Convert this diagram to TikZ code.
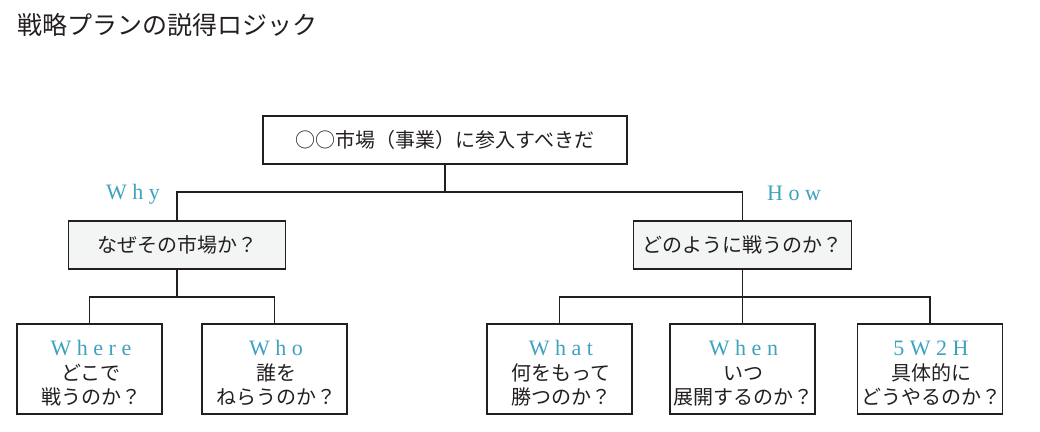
\documentclass[tikz,border=0pt]{standalone}
\usepackage{fontspec}
\setmainfont{Noto Sans CJK JP}
\newfontfamily\lblfont[LetterSpace=25]{Liberation Serif}
\definecolor{teal}{RGB}{62,162,190}
\definecolor{ink}{RGB}{35,31,32}
\definecolor{boxfill}{RGB}{243,245,245}
\begin{document}
\begin{tikzpicture}[x=1pt,y=-1pt,
  box/.style={draw=ink,line width=1.2pt,rectangle,inner sep=0pt,outer sep=0pt,text=ink},
  topbox/.style={box,minimum width=364pt,minimum height=48pt,font=\fontsize{20}{24}\selectfont},
  midbox/.style={box,fill=boxfill,minimum width=217pt,minimum height=48pt,font=\fontsize{20}{24}\selectfont},
  leafbox/.style={box,minimum width=145pt,minimum height=90pt},
  leaftext/.style={inner sep=0pt,align=center,text=ink,font=\fontsize{20}{24.5}\selectfont},
  tag/.style={text=teal,font=\lblfont\fontsize{22}{24}\selectfont,inner sep=0pt},
  link/.style={draw=ink,line width=1.2pt}
]
\useasboundingbox (0,0) rectangle (1040,431);
\node[anchor=west,inner sep=0pt,text=ink,font=\fontsize{25}{30}\selectfont] (title) at (17,25) {戦略プランの説得ロジック};

\node[topbox] (top) at (445,140) {○○市場（事業）に参入すべきだ};
\node[midbox] (why) at (177,245) {なぜその市場か？};
\node[midbox,minimum width=218pt] (how) at (742.5,245) {どのように戦うのか？};

\node[tag] (whyl) at (133,194) {Why};
\node[tag] (howl) at (794,193) {How};

\coordinate (j1) at (445,192);
\coordinate (j2) at (177,297);
\coordinate (j3) at (742.5,297);

\node[leafbox] (where) at (89.5,369) {};
\node[leafbox] (who) at (274.5,369) {};
\node[leafbox] (what) at (559.5,369) {};
\node[leafbox] (when) at (742.5,369) {};
\node[leafbox] (h52) at (930,369) {};

\node[leaftext] (whereT) at (91,373.5) {{\color{teal}\lblfont\fontsize{22}{24.5}\selectfont Where}\\どこで\\戦うのか？};
\node[leaftext] (whoT) at (276,373.5) {{\color{teal}\lblfont\fontsize{22}{24.5}\selectfont Who}\\誰を\\ねらうのか？};
\node[leaftext] (whatT) at (561,373.5) {{\color{teal}\lblfont\fontsize{22}{24.5}\selectfont What}\\何をもって\\勝つのか？};
\node[leaftext] (whenT) at (743.5,373.5) {{\color{teal}\lblfont\fontsize{22}{24.5}\selectfont When}\\いつ\\展開するのか？};
\node[leaftext] (h52T) at (931,373.5) {{\color{teal}\lblfont\fontsize{22}{24.5}\selectfont 5W2H}\\具体的に\\どうやるのか？};

\draw[link] (top.south) -- (j1);
\draw[link] (why.north) |- (j1) -| (how.north);
\draw[link] (why.south) -- (j2);
\draw[link] (where.north) |- (j2) -| (who.north);
\draw[link] (how.south) -- (when.north);
\draw[link] (what.north) |- (j3) -| (h52.north);
\end{tikzpicture}
\end{document}
